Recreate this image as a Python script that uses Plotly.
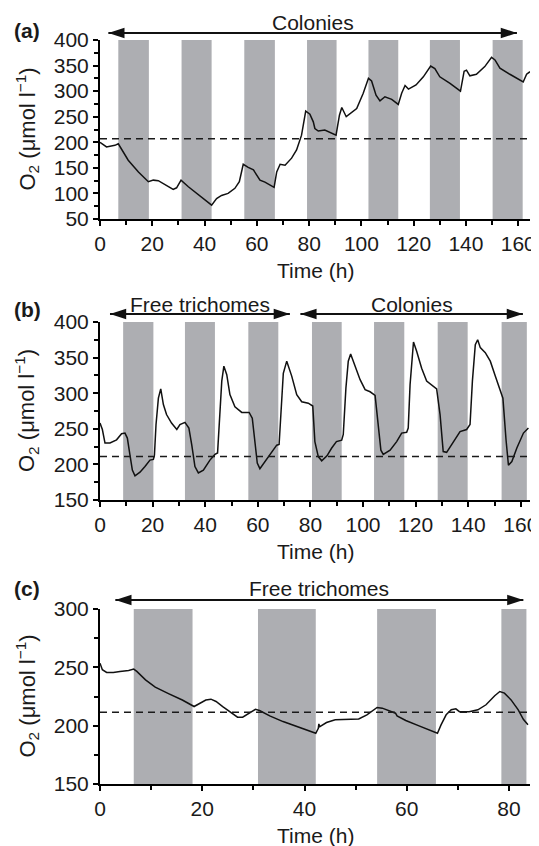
import plotly.graph_objects as go

# ---------------- data ----------------
# (a) colonies
t_a = [0, 2.5, 5.7, 7, 10.8, 14.7, 18.5, 20.4, 22.3, 25.5, 28, 29.3, 31, 33.8, 37.6, 40.8, 42.7, 44.6, 46.5,
       49, 51.6, 53.3, 54.8, 56.7, 58.7, 61.2, 63.1, 66.6, 67.6, 68.9, 70.8, 73.3, 75.2, 77.1, 78.7, 80.3,
       81.6, 82.2, 83.5, 86, 88.4, 90.3, 91.6, 92.5, 94.2, 95.6, 98.2, 100.7, 102.7, 103.9, 105.6, 107.1,
       109, 111.6, 114.1, 115.4, 116.7, 118, 120.9, 123.7, 126.5, 128.1, 130, 133.9, 137.9, 139.3, 140.2,
       141.5, 144, 147.2, 149.8, 151.1, 153, 156.8, 160, 161.9, 163.2, 164.5]
o2_a = [200, 191, 194, 197, 165, 142, 123, 126, 125, 115, 108, 111, 126, 113, 98, 85, 77, 90, 96,
        100, 110, 123, 157, 151, 146, 126, 122, 112, 142, 157, 155, 169, 185, 214, 261, 255,
        240, 227, 222, 224, 219, 214, 253, 268, 250, 255, 266, 296, 325, 320, 292, 281,
        289, 284, 274, 296, 311, 304, 312, 328, 349, 344, 328, 315, 300, 339, 341,
        330, 333, 348, 366, 361, 345, 333, 324, 318, 333, 338]
dark_a_start = [7, 31.2, 55.2, 79.2, 102.7, 126.2, 150.2]
dark_a_end = [18.7, 42.7, 66.9, 90.5, 114.1, 137.7, 161.7]
ref_a = 207

# (b) free trichomes then colonies
t_b = [0, 0.9, 1.9, 3.8, 6.3, 8.2, 9.5, 10.4, 11.4, 12.3, 13.3, 15.2, 17.1, 19, 20.3, 20.7, 21.3, 22.2,
       23.1, 24.1, 25.3, 27.2, 29.2, 30.4, 32.3, 33.8, 34.9, 36.1, 37.4, 39.3, 41.8, 43.7, 44.7, 45.6,
       46.3, 47.1, 48.2, 49.4, 51.3, 53.9, 56.7, 57.9, 58.9, 59.8, 60.8, 62.7, 65.3, 67.2, 68.1, 68.8,
       69.7, 71, 72.9, 74.8, 76.7, 79.2, 80.9, 81.7, 83, 84.3, 86.3, 88.1, 89.9, 91.9, 92.5, 93.5, 94.4,
       95.3, 96.9, 98.9, 100.8, 102.7, 104.6, 105.9, 106.8, 107.7, 110.3, 112.8, 114.7, 116.6, 117.2,
       117.9, 119.2, 120.4, 122.3, 124.2, 126.5, 128, 129.3, 130.5, 131.8, 134.4, 136.9, 139.4, 140.7,
       141.6, 142.7, 143.6, 144.6, 146.5, 148.4, 150.3, 151.9, 153.2, 154.4, 155.3, 156.6, 158.5, 161, 162.9]
o2_b = [258, 249, 230, 230, 234.5, 243, 244, 237, 213, 192, 184, 189, 197, 206, 207, 213, 256, 293,
        306, 284, 270, 258, 249, 256, 259, 251, 227, 197, 188, 192, 206, 214, 216, 270,
        317, 338, 326, 298, 281, 273, 273, 265, 232, 202, 194, 204, 218, 227, 228, 270,
        328, 345, 324, 298, 288, 286, 282, 232, 211, 205, 212, 223, 232, 234, 242, 307, 345,
        355, 340, 319, 305, 302, 297, 256, 220, 214, 220, 232, 244, 245, 251,
        312, 372, 359, 335, 317, 311, 306, 270, 218, 217, 232, 246, 249, 256,
        317, 368, 375, 364, 357, 345, 324, 305, 293, 234, 199, 204, 223, 244, 251]
dark_b_start = [8.8, 32.3, 56.4, 80.6, 104.2, 128.4, 152.7]
dark_b_end = [20.3, 43.7, 67.8, 91.9, 115.7, 139.8, 162.3]
ref_b = 211

# (c) free trichomes
t_c = [0, 0.46, 1.3, 2.6, 3.9, 5.6, 6.6, 7.2, 8.9, 10.8, 13.5, 16.1, 18.4, 19.4, 20.7, 21.7, 22.7, 24,
       25.6, 26.9, 27.9, 29.2, 30.4, 31.2, 33.2, 35.8, 38.4, 40.4, 42.2, 42.7, 42.8, 43, 44.3, 46, 47.9,
       50.6, 52.2, 54.2, 55.2, 56.8, 57.8, 58.1, 59.8, 62.4, 64.4, 66, 66.7, 67.7, 68.7, 69.6, 70.3,
       72.2, 73.9, 75.5, 77.2, 78.2, 79.1, 80.4, 81.8, 82.8, 83.7]
o2_c = [253.6, 248, 245.6, 245.6, 246.5, 247.3, 248.5, 246.5, 239.3, 233, 227.3, 222, 216.4, 218.7, 222,
        222.7, 220.7, 216.4, 211.3, 207.3, 207.3, 210.7, 214, 213, 208.4, 203.5, 199.2, 196.4, 193.5,
        197.8, 201.5, 199.2, 202.7, 205, 205.5, 205.8, 209.3, 215.6, 215, 212, 210.7, 208.4, 204.4,
        199.8, 196.4, 193.5, 200.7, 209.3, 213.6, 214.4, 212, 212, 213.6, 217.9, 225.6, 229.3, 227.9,
        222.1, 213.6, 205.5, 200.7]
dark_c_start = [6.6, 30.9, 54.2, 78.5]
dark_c_end = [18.1, 42.2, 65.7, 83.4]
ref_c = 211.5

# period annotations: (panel index, start h, end h, label)
periods = [
    (0, 3.2, 159.5, "Colonies"),
    (1, 3.8, 72.2, "Free trichomes"),
    (1, 76.2, 160.8, "Colonies"),
    (2, 3.0, 82.8, "Free trichomes"),
]

x_ticks_ab = [0, 20, 40, 60, 80, 100, 120, 140, 160]
x_ticks_c = [0, 20, 40, 60, 80]

# ---------------- figure ----------------
W, H = 539, 846
OFF = 8  # page body margin: the figure is drawn 8 px in from the window corner
FONT = "Liberation Sans, Arial, sans-serif"
INK = "#1a1a1a"
GRAY = "#adaeb2"


def px(x):
    return (x - OFF) / W


def py(y):
    return 1 - (y - OFF) / H


# per panel: axis suffix, arrow-axis suffix, data, x range, y range, bar top,
# plot top/bottom rows (window pixels), arrow row, label row, letter
panels = [
    dict(k="", ka="4", t=t_a, o2=o2_a, ds=dark_a_start, de=dark_a_end, ref=ref_a,
         xr=[0, 164.5], yr=[50, 400], btop=400, ytop=40, ybot=219, yarrow=33, ylab=23,
         letter="(a)", yletter=30, xt=x_ticks_ab),
    dict(k="2", ka="5", t=t_b, o2=o2_b, ds=dark_b_start, de=dark_b_end, ref=ref_b,
         xr=[0, 163.5], yr=[150, 400], btop=403, ytop=322, ybot=500, yarrow=314, ylab=304,
         letter="(b)", yletter=309, xt=x_ticks_ab),
    dict(k="3", ka="6", t=t_c, o2=o2_c, ds=dark_c_start, de=dark_c_end, ref=ref_c,
         xr=[0, 84.1], yr=[150, 300], btop=302, ytop=609, ybot=784, yarrow=600, ylab=588,
         letter="(c)", yletter=588, xt=x_ticks_c),
]

fig = go.Figure()
layout = dict(
    template="none",
    width=W, height=H, autosize=False,
    margin=dict(l=0, r=0, t=0, b=0, pad=0),
    paper_bgcolor="white", plot_bgcolor="rgba(0,0,0,0)",
    showlegend=False,
    font=dict(family=FONT, size=21, color=INK),
)
shapes = []
annotations = []

for p in panels:
    xa, ya, yarr = "x" + p["k"], "y" + p["k"], "y" + p["ka"]
    fig.add_trace(go.Scatter(x=p["t"], y=p["o2"], mode="lines", xaxis=xa, yaxis=ya,
                             line=dict(color="#111111", width=1.5), hoverinfo="skip"))
    for s, e in zip(p["ds"], p["de"]):
        shapes.append(dict(type="rect", xref=xa, yref=ya, x0=s, x1=e, y0=p["yr"][0], y1=p["btop"],
                           fillcolor=GRAY, line=dict(width=0), layer="below"))
    shapes.append(dict(type="line", xref=xa, yref=ya, x0=p["xr"][0], x1=p["xr"][1],
                       y0=p["ref"], y1=p["ref"],
                       line=dict(color="#1a1a1a", width=1.6, dash="7px,5px"), layer="above"))
    layout["xaxis" + p["k"]] = dict(
        domain=[px(100), px(530)], anchor=ya, range=p["xr"], automargin=False,
        showline=True, linecolor="black", linewidth=2,
        ticks="outside", ticklen=5, tickwidth=2, tickcolor="black",
        tickvals=p["xt"], ticktext=[str(v) for v in p["xt"]],
        minor=dict(ticks="outside", ticklen=4, tickwidth=2, tickcolor="black", dtick=10, tick0=0),
        showgrid=False, zeroline=False, ticklabelstandoff=0,
        tickfont=dict(size=21, family=FONT, color=INK),
    )
    layout["yaxis" + p["k"]] = dict(
        domain=[py(p["ybot"]), py(p["ytop"])], anchor=xa, range=p["yr"], automargin=False,
        showline=True, linecolor="black", linewidth=2,
        ticks="outside", ticklen=5, tickwidth=2, tickcolor="black",
        dtick=50, tick0=0,
        minor=dict(ticks="outside", ticklen=4, tickwidth=2, tickcolor="black", dtick=25, tick0=0),
        showgrid=False, zeroline=False,
        tickfont=dict(size=21, family=FONT, color=INK),
    )
    # invisible companion y axis that reaches above the panel, used for the period arrows
    unit_px = (p["ybot"] - p["ytop"]) / (p["yr"][1] - p["yr"][0])
    extra = p["ytop"] - 12
    layout["yaxis" + p["ka"]] = dict(
        domain=[py(p["ybot"]), py(extra)], anchor=xa, visible=False, automargin=False,
        range=[p["yr"][0], p["yr"][1] + (p["ytop"] - extra) / unit_px],
        showgrid=False, zeroline=False,
    )
    p["yarrow_val"] = p["yr"][1] + (p["ytop"] - p["yarrow"]) / unit_px
    # x title
    annotations.append(dict(text="Time (h)", xref="paper", yref="paper", x=px(315), y=py(p["ybot"] + 51),
                            xanchor="center", yanchor="middle", showarrow=False,
                            font=dict(size=21, family=FONT, color=INK)))
    # y title
    annotations.append(dict(text="O<sub>2</sub> (μmol l<sup>−1</sup>)", xref="paper", yref="paper",
                            x=px(27), y=py((p["ytop"] + p["ybot"]) / 2), textangle=-90,
                            xanchor="center", yanchor="middle", showarrow=False,
                            font=dict(size=22, family=FONT, color=INK)))
    annotations.append(dict(text="<b>" + p["letter"] + "</b>", xref="paper", yref="paper",
                            x=px(27), y=py(p["yletter"]),
                            xanchor="center", yanchor="middle", showarrow=False,
                            font=dict(size=21, family=FONT, color=INK)))

for idx, a0, a1, lab in periods:
    p = panels[idx]
    xa, yarr = "x" + p["k"], "y" + p["ka"]
    yv = p["yarrow_val"]
    fig.add_trace(go.Scatter(x=[a0, a1], y=[yv, yv], mode="lines", xaxis=xa, yaxis=yarr,
                             line=dict(color="#111111", width=2), hoverinfo="skip", cliponaxis=False))
    fig.add_trace(go.Scatter(x=[a0, a1], y=[yv, yv], mode="markers", xaxis=xa, yaxis=yarr,
                             cliponaxis=False, hoverinfo="skip",
                             marker=dict(symbol="arrow", size=17, angle=[-90, 90], color="#111111",
                                         line=dict(width=0))))
    annotations.append(dict(text=lab, xref=xa, yref="paper", x=(a0 + a1) / 2, y=py(p["ylab"]),
                            xanchor="center", yanchor="middle", showarrow=False,
                            font=dict(size=21, family=FONT, color=INK)))

layout["shapes"] = shapes
layout["annotations"] = annotations
fig.update_layout(**layout)
fig.write_html("out.html")
